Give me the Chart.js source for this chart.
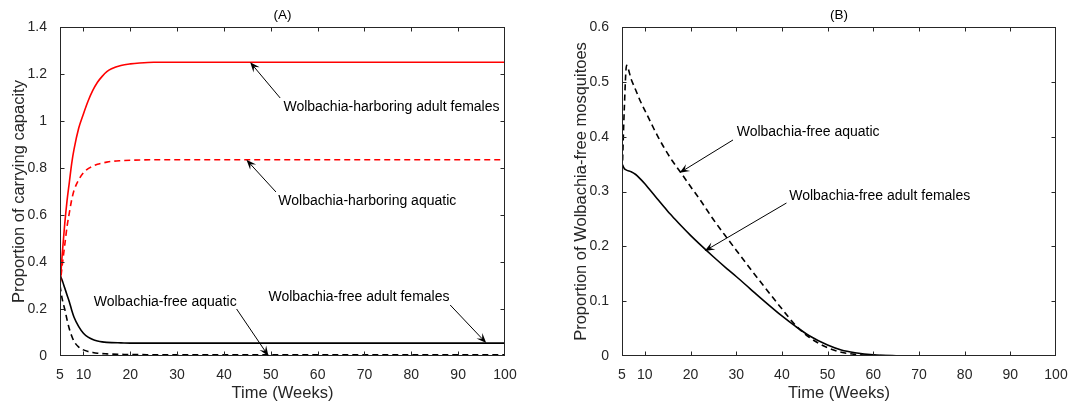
<!DOCTYPE html>
<html>
<head>
<meta charset="utf-8">
<script src="https://cdn.jsdelivr.net/npm/chart.js@4"></script>
<style>
  html, body { margin: 0; padding: 0; background: #fff; }
  .panel { position: absolute; top: 0; height: 406px; }
  #boxA { left: 0; width: 540px; }
  #boxB { left: 540px; width: 544px; }
</style>
</head>
<body>
<div class="panel" id="boxA"><canvas id="chartA"></canvas></div>
<div class="panel" id="boxB"><canvas id="chartB"></canvas></div>
<script>
// ---- data ----
const xTicks = [5, 10, 20, 30, 40, 50, 60, 70, 80, 90, 100];
const yTicksA = [0, 0.2, 0.4, 0.6, 0.8, 1, 1.2, 1.4];
const yTicksB = [0, 0.1, 0.2, 0.3, 0.4, 0.5, 0.6];

// panel (A)
const timeA = [5, 5.5, 6, 6.5, 7, 7.5, 8, 9, 10, 11, 12, 13, 14, 15, 16, 18, 20, 22, 25, 30, 40, 50, 60, 70, 80, 90, 100];
const harborAdultA = [0.30, 0.44, 0.56, 0.66, 0.74, 0.82, 0.88, 0.97, 1.03, 1.085, 1.13, 1.165, 1.19, 1.21, 1.222, 1.236, 1.243, 1.247, 1.25, 1.25, 1.25, 1.25, 1.25, 1.25, 1.25, 1.25, 1.25];
const harborAquaticA = [0.30, 0.39, 0.47, 0.55, 0.61, 0.665, 0.705, 0.75, 0.78, 0.797, 0.808, 0.816, 0.821, 0.825, 0.828, 0.831, 0.833, 0.834, 0.835, 0.835, 0.835, 0.835, 0.835, 0.835, 0.835, 0.835, 0.835];
const freeAdultA = [0.345, 0.32, 0.29, 0.26, 0.23, 0.195, 0.165, 0.125, 0.097, 0.08, 0.07, 0.064, 0.06, 0.058, 0.057, 0.056, 0.055, 0.055, 0.055, 0.055, 0.055, 0.055, 0.055, 0.055, 0.055, 0.055, 0.055];
const freeAquaticA = [0.30, 0.24, 0.20, 0.155, 0.115, 0.085, 0.062, 0.038, 0.026, 0.019, 0.015, 0.012, 0.01, 0.009, 0.008, 0.007, 0.006, 0.006, 0.005, 0.005, 0.005, 0.005, 0.005, 0.005, 0.005, 0.005, 0.005];

// panel (B)
const timeB = [5, 5.5, 6, 7, 8, 9, 10, 11, 12, 13, 14, 15, 16, 18, 20, 22, 25, 28, 30, 33, 36, 40, 43, 46, 50, 53, 56, 60, 65, 70, 80, 90, 100];
const freeAquaticB = [0.32, 0.45, 0.53, 0.505, 0.485, 0.465, 0.448, 0.431, 0.414, 0.398, 0.383, 0.369, 0.356, 0.333, 0.309, 0.286, 0.249, 0.215, 0.193, 0.16, 0.128, 0.086, 0.056, 0.034, 0.015, 0.007, 0.003, 0.001, 0.0003, 0, 0, 0, 0];
const freeAdultB = [0.35, 0.342, 0.339, 0.336, 0.331, 0.323, 0.314, 0.304, 0.294, 0.284, 0.274, 0.264, 0.255, 0.237, 0.22, 0.204, 0.181, 0.159, 0.145, 0.123, 0.101, 0.073, 0.054, 0.037, 0.02, 0.011, 0.006, 0.002, 0.0005, 0.0001, 0, 0, 0];

// text labels with arrows (data coordinates)
const notesA = [
  { text: 'Wolbachia-harboring adult females', at: [52.7, 1.06], from: [52.0, 1.098], to: [45.6, 1.25] },
  { text: 'Wolbachia-harboring aquatic', at: [51.6, 0.661], from: [51.1, 0.698], to: [44.8, 0.835] },
  { text: 'Wolbachia-free aquatic', at: [12.2, 0.23], from: [42.7, 0.2], to: [49.5, 0] },
  { text: 'Wolbachia-free adult females', at: [49.5, 0.251], from: [88.3, 0.217], to: [96, 0.055] }
];
const notesB = [
  { text: 'Wolbachia-free aquatic', at: [30.1, 0.4085], from: [29.3, 0.394], to: [17.6, 0.334] },
  { text: 'Wolbachia-free adult females', at: [41.6, 0.292], from: [41.0, 0.279], to: [23.1, 0.1915] }
];

const FONT = 'Liberation Sans, Arial, Helvetica, sans-serif';
const AXIS = '#262626';

function pts(xs, ys) {
  return xs.map((x, i) => ({ x: x, y: ys[i] }));
}

function line(data, color, dashed) {
  return {
    data: data,
    borderColor: color,
    borderWidth: 1.6,
    borderDash: dashed ? [6, 4] : [],
    pointRadius: 0,
    fill: false,
    cubicInterpolationMode: 'monotone'
  };
}

function drawArrow(ctx, x1, y1, x2, y2) {
  const a = Math.atan2(y2 - y1, x2 - x1);
  const dx = Math.cos(a), dy = Math.sin(a);
  const px = -dy, py = dx;
  const L = 10, W = 4, N = 6;
  ctx.beginPath();
  ctx.moveTo(x1, y1);
  ctx.lineTo(x2 - N * dx, y2 - N * dy);
  ctx.stroke();
  ctx.beginPath();
  ctx.moveTo(x2, y2);
  ctx.lineTo(x2 - L * dx + W * px, y2 - L * dy + W * py);
  ctx.lineTo(x2 - N * dx, y2 - N * dy);
  ctx.lineTo(x2 - L * dx - W * px, y2 - L * dy - W * py);
  ctx.closePath();
  ctx.fill();
}

const framePlugin = {
  id: 'frame',
  afterDraw(chart, args, opts) {
    const ctx = chart.ctx;
    const a = chart.chartArea;
    const xs = chart.scales.x, ys = chart.scales.y;
    ctx.save();
    // box
    ctx.strokeStyle = AXIS;
    ctx.lineWidth = 1;
    const l = Math.round(a.left) + 0.5, r = Math.round(a.right) - 0.5;
    const t = Math.round(a.top) + 0.5, b = Math.round(a.bottom) - 0.5;
    ctx.strokeRect(l, t, r - l, b - t);
    // inward ticks on all four sides (skip the ones sitting on the box)
    const tl = 4;
    ctx.beginPath();
    xs.ticks.forEach(tk => {
      if (tk.value === xs.min || tk.value === xs.max) return;
      const x = Math.round(xs.getPixelForValue(tk.value)) + 0.5;
      ctx.moveTo(x, b); ctx.lineTo(x, b - tl);
      ctx.moveTo(x, t); ctx.lineTo(x, t + tl);
    });
    ys.ticks.forEach(tk => {
      if (tk.value === ys.min || tk.value === ys.max) return;
      const y = Math.round(ys.getPixelForValue(tk.value)) + 0.5;
      ctx.moveTo(l, y); ctx.lineTo(l + tl, y);
      ctx.moveTo(r, y); ctx.lineTo(r - tl, y);
    });
    ctx.stroke();
    // panel title
    ctx.fillStyle = '#000';
    ctx.font = '13.5px ' + FONT;
    ctx.textAlign = 'center';
    ctx.textBaseline = 'middle';
    ctx.fillText(opts.title, (a.left + a.right) / 2, 15);
    // notes with arrows
    ctx.font = '14px ' + FONT;
    ctx.textAlign = 'left';
    ctx.strokeStyle = '#000';
    ctx.fillStyle = '#000';
    ctx.lineWidth = 1;
    opts.notes.forEach(n => {
      ctx.fillText(n.text, xs.getPixelForValue(n.at[0]), ys.getPixelForValue(n.at[1]));
      drawArrow(ctx,
        xs.getPixelForValue(n.from[0]), ys.getPixelForValue(n.from[1]),
        xs.getPixelForValue(n.to[0]), ys.getPixelForValue(n.to[1]));
    });
    ctx.restore();
  }
};

function makeChart(id, cfg) {
  return new Chart(document.getElementById(id), {
    type: 'line',
    data: { datasets: cfg.datasets },
    options: {
      responsive: true,
      maintainAspectRatio: false,
      animation: false,
      layout: { padding: { top: 27, right: cfg.padRight, left: 0, bottom: 0 } },
      plugins: {
        legend: { display: false },
        tooltip: { enabled: false },
        frame: { title: cfg.title, notes: cfg.notes }
      },
      scales: {
        x: {
          type: 'linear',
          min: 5,
          max: 100,
          afterBuildTicks: s => { s.ticks = xTicks.map(v => ({ value: v })); },
          afterFit: s => { s.height = 50; },
          grid: { display: false },
          border: { display: false },
          ticks: { color: AXIS, font: { family: FONT, size: 14 }, padding: 3, maxRotation: 0, autoSkip: false },
          title: { display: true, text: 'Time (Weeks)', color: AXIS, font: { family: FONT, size: 16.5 }, padding: { top: 0, bottom: 3 } }
        },
        y: {
          min: 0,
          max: cfg.yMax,
          afterBuildTicks: s => { s.ticks = cfg.yTicks.map(v => ({ value: v })); },
          afterFit: s => { s.width = cfg.yWidth; },
          grid: { display: false },
          border: { display: false },
          ticks: { color: AXIS, font: { family: FONT, size: 14 }, padding: 5, callback: v => String(+v.toFixed(2)) },
          title: { display: true, text: cfg.yTitle, color: AXIS, font: { family: FONT, size: 16.5 }, padding: { top: cfg.yTitlePad, bottom: 0 } }
        }
      }
    },
    plugins: [framePlugin]
  });
}

makeChart('chartA', {
  title: '(A)',
  notes: notesA,
  padRight: 35,
  yWidth: 60,
  yMax: 1.4,
  yTicks: yTicksA,
  yTitle: 'Proportion of carrying capacity',
  yTitlePad: 10,
  datasets: [
    line(pts(timeA, harborAdultA), '#ff0000', false),
    line(pts(timeA, harborAquaticA), '#ff0000', true),
    line(pts(timeA, freeAdultA), '#000000', false),
    line(pts(timeA, freeAquaticA), '#000000', true)
  ]
});

makeChart('chartB', {
  title: '(B)',
  notes: notesB,
  padRight: 28,
  yWidth: 82,
  yMax: 0.6,
  yTicks: yTicksB,
  yTitle: 'Proportion of Wolbachia-free mosquitoes',
  yTitlePad: 32,
  datasets: [
    line(pts(timeB, freeAquaticB), '#000000', true),
    line(pts(timeB, freeAdultB), '#000000', false)
  ]
});
</script>
</body>
</html>
